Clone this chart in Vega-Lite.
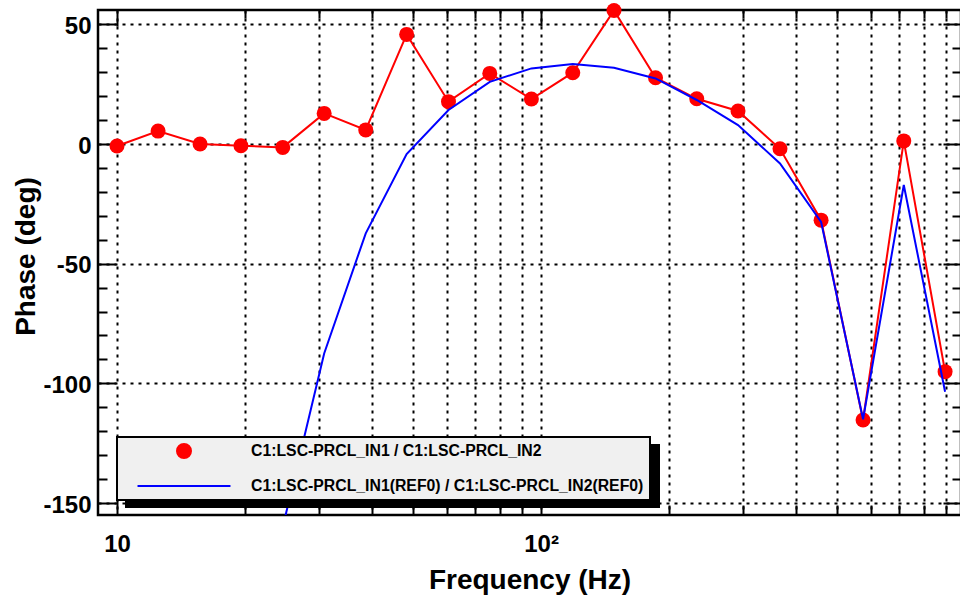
{
  "$schema": "https://vega.github.io/schema/vega-lite/v6.json",
  "width": 863,
  "height": 505,
  "autosize": "none",
  "padding": {"left": 98, "top": 10, "right": 0, "bottom": 80},
  "background": "white",
  "config": {
    "view": {"stroke": "black", "strokeWidth": 2.5},
    "font": "Liberation Sans",
    "legend": {"strokeWidth": 2},
    "axis": {
      "domain": false,
      "labelFont": "Liberation Sans",
      "labelFontSize": 24,
      "labelFontWeight": "bold",
      "labelColor": "black",
      "labelFlush": false,
      "labelOverlap": false,
      "titleFont": "Liberation Sans",
      "titleFontSize": 28,
      "titleFontWeight": "bold",
      "titleColor": "black",
      "tickColor": "black",
      "tickWidth": 2,
      "gridColor": "black",
      "gridDash": [3, 5],
      "gridWidth": 2,
      "gridOpacity": 1
    }
  },
  "datasets": {
    "phase": [
      {"f": 10, "phase": -0.8, "series": "C1:LSC-PRCL_IN1 / C1:LSC-PRCL_IN2"},
      {"f": 12.5, "phase": 5.4, "series": "C1:LSC-PRCL_IN1 / C1:LSC-PRCL_IN2"},
      {"f": 15.7, "phase": 0.0, "series": "C1:LSC-PRCL_IN1 / C1:LSC-PRCL_IN2"},
      {"f": 19.6, "phase": -0.7, "series": "C1:LSC-PRCL_IN1 / C1:LSC-PRCL_IN2"},
      {"f": 24.6, "phase": -1.4, "series": "C1:LSC-PRCL_IN1 / C1:LSC-PRCL_IN2"},
      {"f": 30.8, "phase": 12.8, "series": "C1:LSC-PRCL_IN1 / C1:LSC-PRCL_IN2"},
      {"f": 38.6, "phase": 5.9, "series": "C1:LSC-PRCL_IN1 / C1:LSC-PRCL_IN2"},
      {"f": 48.2, "phase": 45.8, "series": "C1:LSC-PRCL_IN1 / C1:LSC-PRCL_IN2"},
      {"f": 60.5, "phase": 17.7, "series": "C1:LSC-PRCL_IN1 / C1:LSC-PRCL_IN2"},
      {"f": 75.7, "phase": 29.5, "series": "C1:LSC-PRCL_IN1 / C1:LSC-PRCL_IN2"},
      {"f": 94.9, "phase": 18.8, "series": "C1:LSC-PRCL_IN1 / C1:LSC-PRCL_IN2"},
      {"f": 118.8, "phase": 29.8, "series": "C1:LSC-PRCL_IN1 / C1:LSC-PRCL_IN2"},
      {"f": 148.6, "phase": 55.8, "series": "C1:LSC-PRCL_IN1 / C1:LSC-PRCL_IN2"},
      {"f": 186.2, "phase": 27.7, "series": "C1:LSC-PRCL_IN1 / C1:LSC-PRCL_IN2"},
      {"f": 232.9, "phase": 18.9, "series": "C1:LSC-PRCL_IN1 / C1:LSC-PRCL_IN2"},
      {"f": 291.4, "phase": 13.8, "series": "C1:LSC-PRCL_IN1 / C1:LSC-PRCL_IN2"},
      {"f": 366, "phase": -2.0, "series": "C1:LSC-PRCL_IN1 / C1:LSC-PRCL_IN2"},
      {"f": 457.5, "phase": -31.8, "series": "C1:LSC-PRCL_IN1 / C1:LSC-PRCL_IN2"},
      {"f": 574.6, "phase": -115.3, "series": "C1:LSC-PRCL_IN1 / C1:LSC-PRCL_IN2"},
      {"f": 716.8, "phase": 1.3, "series": "C1:LSC-PRCL_IN1 / C1:LSC-PRCL_IN2"},
      {"f": 897, "phase": -95.1, "series": "C1:LSC-PRCL_IN1 / C1:LSC-PRCL_IN2"},
      {"f": 24.6, "phase": -160, "series": "C1:LSC-PRCL_IN1(REF0) / C1:LSC-PRCL_IN2(REF0)"},
      {"f": 30.8, "phase": -87.5, "series": "C1:LSC-PRCL_IN1(REF0) / C1:LSC-PRCL_IN2(REF0)"},
      {"f": 38.6, "phase": -37.3, "series": "C1:LSC-PRCL_IN1(REF0) / C1:LSC-PRCL_IN2(REF0)"},
      {"f": 48.2, "phase": -4.2, "series": "C1:LSC-PRCL_IN1(REF0) / C1:LSC-PRCL_IN2(REF0)"},
      {"f": 60.5, "phase": 14.2, "series": "C1:LSC-PRCL_IN1(REF0) / C1:LSC-PRCL_IN2(REF0)"},
      {"f": 75.7, "phase": 26.0, "series": "C1:LSC-PRCL_IN1(REF0) / C1:LSC-PRCL_IN2(REF0)"},
      {"f": 94.9, "phase": 31.6, "series": "C1:LSC-PRCL_IN1(REF0) / C1:LSC-PRCL_IN2(REF0)"},
      {"f": 118.8, "phase": 33.4, "series": "C1:LSC-PRCL_IN1(REF0) / C1:LSC-PRCL_IN2(REF0)"},
      {"f": 148.6, "phase": 31.9, "series": "C1:LSC-PRCL_IN1(REF0) / C1:LSC-PRCL_IN2(REF0)"},
      {"f": 186.2, "phase": 27.4, "series": "C1:LSC-PRCL_IN1(REF0) / C1:LSC-PRCL_IN2(REF0)"},
      {"f": 232.9, "phase": 18.4, "series": "C1:LSC-PRCL_IN1(REF0) / C1:LSC-PRCL_IN2(REF0)"},
      {"f": 291.4, "phase": 7.9, "series": "C1:LSC-PRCL_IN1(REF0) / C1:LSC-PRCL_IN2(REF0)"},
      {"f": 366, "phase": -8.1, "series": "C1:LSC-PRCL_IN1(REF0) / C1:LSC-PRCL_IN2(REF0)"},
      {"f": 457.5, "phase": -32.5, "series": "C1:LSC-PRCL_IN1(REF0) / C1:LSC-PRCL_IN2(REF0)"},
      {"f": 574.6, "phase": -115, "series": "C1:LSC-PRCL_IN1(REF0) / C1:LSC-PRCL_IN2(REF0)"},
      {"f": 716.8, "phase": -17.1, "series": "C1:LSC-PRCL_IN1(REF0) / C1:LSC-PRCL_IN2(REF0)"},
      {"f": 897, "phase": -103.5, "series": "C1:LSC-PRCL_IN1(REF0) / C1:LSC-PRCL_IN2(REF0)"}
    ]
  },
  "data": {"name": "phase"},
  "layer": [
    {
      "transform": [{"filter": "datum.series === 'C1:LSC-PRCL_IN1 / C1:LSC-PRCL_IN2'"}],
      "mark": {"type": "line", "strokeWidth": 2},
      "encoding": {
        "x": {
          "field": "f", "type": "quantitative",
          "scale": {"type": "log", "domain": [9.02, 978], "nice": false},
          "axis": {"orient": "bottom", "values": [10, 100], "labelExpr": "datum.value === 10 ? '10' : datum.value === 100 ? '10²' : ''", "ticks": false, "grid": false, "labelPadding": 17, "title": "Frequency (Hz)", "titleY": 73, "titleBaseline": "alphabetic"}
        },
        "y": {
          "field": "phase", "type": "quantitative",
          "scale": {"domain": [-155, 56], "nice": false, "zero": false},
          "axis": {"orient": "left", "values": [-150, -100, -50, 0, 50], "labelExpr": "toString(datum.value)", "ticks": false, "grid": true, "labelPadding": 7, "labelOffset": 2, "title": "Phase (deg)", "titleX": -64, "titleY": 246, "titleBaseline": "alphabetic", "titleAlign": "center"}
        },
        "color": {
          "field": "series", "type": "nominal",
          "scale": {"domain": ["C1:LSC-PRCL_IN1 / C1:LSC-PRCL_IN2", "C1:LSC-PRCL_IN1(REF0) / C1:LSC-PRCL_IN2(REF0)"], "range": ["#ff0000", "#0000ff"]},
          "legend": {"orient": "none", "legendX": 19, "legendY": 427, "title": null, "padding": 6, "fillColor": "#f0f0f0", "strokeColor": "black", "rowPadding": 16, "symbolSize": 196, "symbolStrokeWidth": 2, "symbolOffset": 53, "labelOffset": 59, "labelFont": "Liberation Sans", "labelFontSize": 15.8, "labelFontWeight": "bold", "labelColor": "black", "labelLimit": 1000, "zindex": 2}
        }
      }
    },
    {
      "transform": [{"filter": "datum.series === 'C1:LSC-PRCL_IN1 / C1:LSC-PRCL_IN2'"}],
      "mark": {"type": "point", "filled": true, "size": 225, "opacity": 1},
      "encoding": {
        "x": {
          "field": "f", "type": "quantitative",
          "axis": {"orient": "bottom", "values": [10, 20, 30, 40, 50, 60, 70, 80, 90, 100, 200, 300, 400, 500, 600, 700, 800, 900], "labels": false, "ticks": true, "tickSize": {"condition": {"test": "datum.value === 10 || datum.value === 100", "value": -16}, "value": -10}, "grid": true, "title": null}
        },
        "y": {
          "field": "phase", "type": "quantitative",
          "axis": {"orient": "left", "values": [-150, -140, -130, -120, -110, -100, -90, -80, -70, -60, -50, -40, -30, -20, -10, 0, 10, 20, 30, 40, 50], "labels": false, "ticks": true, "tickSize": {"condition": {"test": "datum.value % 50 === 0", "value": -18}, "value": -9}, "grid": false, "title": null}
        },
        "color": {
          "field": "series", "type": "nominal",
          "scale": {"domain": ["C1:LSC-PRCL_IN1 / C1:LSC-PRCL_IN2", "C1:LSC-PRCL_IN1(REF0) / C1:LSC-PRCL_IN2(REF0)"], "range": ["#ff0000", "#0000ff"]},
          "legend": {"orient": "none", "legendX": 19, "legendY": 427, "title": null, "padding": 6, "fillColor": "#f0f0f0", "strokeColor": "black", "rowPadding": 16, "symbolSize": 196, "symbolStrokeWidth": 2, "symbolOffset": 53, "labelOffset": 59, "labelFont": "Liberation Sans", "labelFontSize": 15.8, "labelFontWeight": "bold", "labelColor": "black", "labelLimit": 1000, "zindex": 2}
        },
        "shape": {
          "field": "series", "type": "nominal",
          "scale": {"domain": ["C1:LSC-PRCL_IN1 / C1:LSC-PRCL_IN2", "C1:LSC-PRCL_IN1(REF0) / C1:LSC-PRCL_IN2(REF0)"], "range": ["circle", "M-6.64,0H6.64"]},
          "legend": {"orient": "none", "legendX": 19, "legendY": 427, "title": null, "padding": 6, "fillColor": "#f0f0f0", "strokeColor": "black", "rowPadding": 16, "symbolSize": 196, "symbolStrokeWidth": 2, "symbolOffset": 53, "labelOffset": 59, "labelFont": "Liberation Sans", "labelFontSize": 15.8, "labelFontWeight": "bold", "labelColor": "black", "labelLimit": 1000, "zindex": 2}
        }
      }
    },
    {
      "transform": [{"filter": "datum.series === 'C1:LSC-PRCL_IN1(REF0) / C1:LSC-PRCL_IN2(REF0)'"}],
      "mark": {"type": "line", "strokeWidth": 2, "clip": true},
      "encoding": {
        "x": {
          "field": "f", "type": "quantitative",
          "axis": {"orient": "top", "values": [10, 20, 30, 40, 50, 60, 70, 80, 90, 100, 200, 300, 400, 500, 600, 700, 800, 900], "labels": false, "ticks": true, "tickSize": {"condition": {"test": "datum.value === 10 || datum.value === 100", "value": -16}, "value": -8}, "grid": false, "title": null}
        },
        "y": {
          "field": "phase", "type": "quantitative",
          "axis": {"orient": "right", "values": [-150, -140, -130, -120, -110, -100, -90, -80, -70, -60, -50, -40, -30, -20, -10, 0, 10, 20, 30, 40, 50], "labels": false, "ticks": true, "tickSize": {"condition": {"test": "datum.value % 50 === 0", "value": -18}, "value": -9}, "grid": false, "title": null}
        },
        "color": {
          "field": "series", "type": "nominal",
          "scale": {"domain": ["C1:LSC-PRCL_IN1 / C1:LSC-PRCL_IN2", "C1:LSC-PRCL_IN1(REF0) / C1:LSC-PRCL_IN2(REF0)"], "range": ["#ff0000", "#0000ff"]},
          "legend": {"orient": "none", "legendX": 19, "legendY": 427, "title": null, "padding": 6, "fillColor": "#f0f0f0", "strokeColor": "black", "rowPadding": 16, "symbolSize": 196, "symbolStrokeWidth": 2, "symbolOffset": 53, "labelOffset": 59, "labelFont": "Liberation Sans", "labelFontSize": 15.8, "labelFontWeight": "bold", "labelColor": "black", "labelLimit": 1000, "zindex": 2}
        }
      }
    },
    {
      "mark": {"type": "point", "filled": true, "opacity": 0, "size": 1},
      "encoding": {
        "fill": {
          "field": "series", "type": "nominal",
          "scale": {"range": ["black", "black"]},
          "legend": {"orient": "none", "legendX": 28, "legendY": 435, "title": null, "padding": 6, "fillColor": "black", "strokeColor": "black", "rowPadding": 8, "symbolSize": 400, "symbolStrokeWidth": 2, "symbolOffset": 53, "symbolOpacity": 0, "labelOffset": 446, "labelExpr": "''", "labelFont": "Liberation Sans", "labelFontSize": 15.8, "labelFontWeight": "bold", "labelColor": "black", "labelLimit": 1000, "zindex": 1}
        }
      }
    }
  ],
  "resolve": {"axis": {"x": "independent", "y": "independent"}}
}
